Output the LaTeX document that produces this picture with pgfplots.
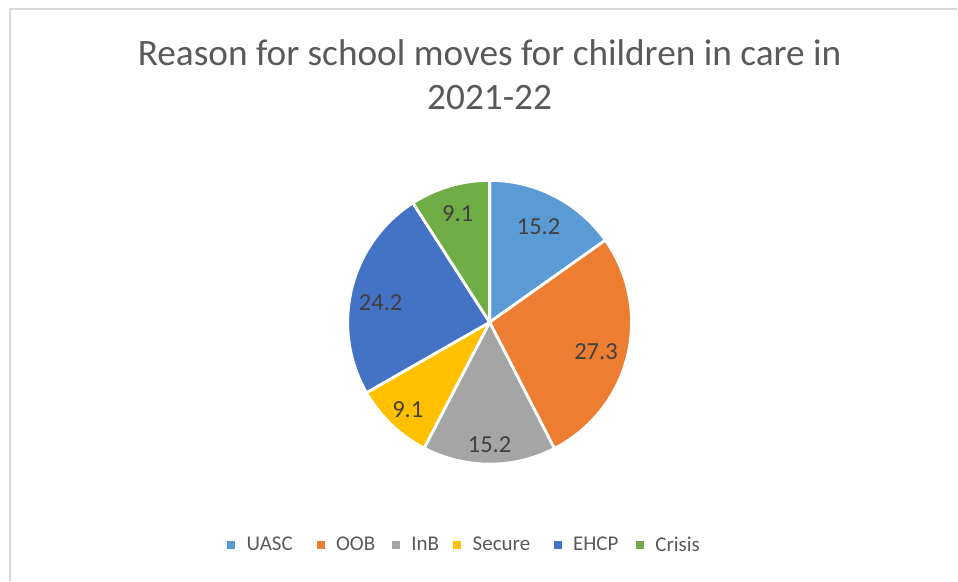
\documentclass[border=0pt]{standalone}
\usepackage{pgfplots}
\pgfplotsset{compat=1.18}
\usepackage{pgfplotstable}
\usepackage{fontspec}
\setmainfont{Carlito}
\definecolor{cUASC}{HTML}{5B9BD5}
\definecolor{cOOB}{HTML}{ED7D31}
\definecolor{cInB}{HTML}{A5A5A5}
\definecolor{cSecure}{HTML}{FFC000}
\definecolor{cEHCP}{HTML}{4472C4}
\definecolor{cCrisis}{HTML}{70AD47}
\definecolor{txtgray}{HTML}{595959}
\definecolor{lblgray}{HTML}{404040}
\definecolor{framegray}{HTML}{D9D9D9}
\newcommand\lblfont{\fontsize{24.5}{28}\selectfont}
\newcommand\sqimg[1]{\addlegendimage{legend image code/.code={\fill[#1] (0pt,-3.5pt) rectangle (7pt,3.5pt);\path (19pt,0pt);}}}
% value, colour, label position (pie radius = 1)
\pgfplotstableread{
name value col lx ly
UASC 15.2 cUASC 0.345 0.676
OOB 27.3 cOOB 0.750 -0.204
InB 15.2 cInB 0.000 -0.863
Secure 9.1 cSecure -0.577 -0.613
EHCP 24.2 cEHCP -0.768 0.141
Crisis 9.1 cCrisis -0.225 0.768
}\piedata
\begin{document}
\begin{tikzpicture}[x=1pt,y=1pt]
\path (0,0) rectangle (958,-581);
\draw[color=framegray, line width=1.5pt] (10,-581) -- (10,-9) -- (958,-9);
\node[anchor=base, text=txtgray, font=\fontsize{37.3}{44}\selectfont, inner sep=0pt] at (490,-65.7) {Reason for school moves for children in care in};
\node[anchor=base, text=txtgray, font=\fontsize{37.3}{44}\selectfont, inner sep=0pt] at (490,-110) {2021-22};
\begin{axis}[at={(490pt,-322.5pt)}, anchor=center, x=142pt, y=142pt,
  xmin=-1, xmax=1, ymin=-1, ymax=1, hide axis, clip=false,
  legend columns=6,
  legend style={at={(0.4085,-0.2835)}, anchor=center, draw=none, fill=none,
    font=\fontsize{21}{24}\selectfont, text=txtgray,
    nodes={inner sep=0pt}},
  legend entries={\makebox[70pt][l]{UASC},\makebox[56pt][l]{OOB},\makebox[42pt][l]{InB},\makebox[81pt][l]{Secure},\makebox[63pt][l]{EHCP},Crisis}]
\sqimg{cUASC}
\sqimg{cOOB}
\sqimg{cInB}
\sqimg{cSecure}
\sqimg{cEHCP}
\sqimg{cCrisis}
\def\total{0}
\pgfplotsforeachungrouped \i in {0,...,5}{%
  \pgfplotstablegetelem{\i}{value}\of{\piedata}%
  \pgfmathsetmacro\newtotal{\total+\pgfplotsretval}%
  \global\let\total\newtotal
}
\def\startang{90}
\pgfplotsforeachungrouped \i in {0,...,5}{%
  \pgfplotstablegetelem{\i}{value}\of{\piedata}\let\val\pgfplotsretval
  \pgfplotstablegetelem{\i}{col}\of{\piedata}\let\col\pgfplotsretval
  \pgfplotstablegetelem{\i}{lx}\of{\piedata}\let\lx\pgfplotsretval
  \pgfplotstablegetelem{\i}{ly}\of{\piedata}\let\ly\pgfplotsretval
  \pgfmathsetmacro\endang{\startang-\val*360/\total}%
  \edef\temp{\noexpand\fill[fill=\col, draw=white, line width=2.8pt, line join=round]
    (axis cs:0,0) -- (axis cs:{cos(\startang)},{sin(\startang)})
    arc[start angle=\startang, end angle=\endang, radius=142pt] -- cycle;
    \noexpand\node[text=lblgray, font=\noexpand\lblfont, inner sep=0pt]
    at (axis cs:\lx,\ly) {\val};}%
  \temp
  \global\let\startang\endang
}
\end{axis}
\end{tikzpicture}
\end{document}
